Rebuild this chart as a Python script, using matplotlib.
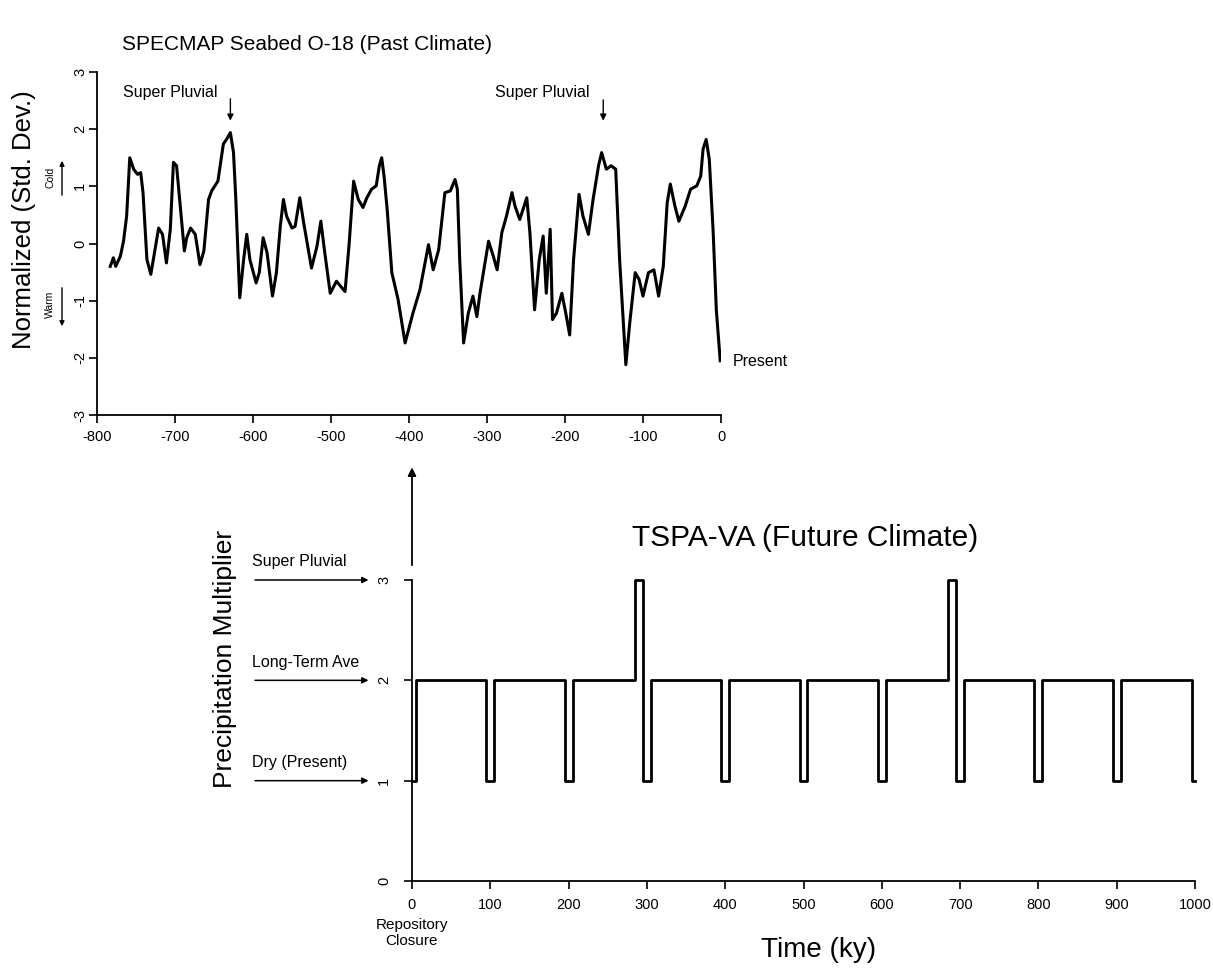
import matplotlib
matplotlib.use("Agg")
import matplotlib.pyplot as plt

plt.rcParams["font.family"] = ["Liberation Sans", "DejaVu Sans"]
plt.rcParams["axes.unicode_minus"] = False

# SPECMAP seabed O-18, normalized (std. dev.), time in ky before present
past_time = [
    -783, -779, -776, -770, -766, -762, -758, -753, -748, -744, -741, -736, -731,
    -727, -721, -716, -711, -706, -702, -698, -694, -688, -685, -680, -674, -668,
    -663, -657, -653, -645, -638, -634, -629, -625, -622, -617, -612, -608, -604,
    -596, -592, -587, -582, -575, -570, -565, -561, -557, -550, -546, -540, -535,
    -525, -518, -513, -508, -501, -493, -482, -477, -471, -465, -459, -454, -448,
    -442, -438, -435, -432, -428, -422, -414, -405, -395, -386, -375, -369, -362,
    -354, -347, -341, -338, -335, -330, -324, -318, -313, -309, -298, -292, -287,
    -281, -275, -268, -264, -258, -249, -245, -239, -233, -228, -224, -219, -216,
    -211, -204, -199, -194, -189, -182, -177, -170, -164, -157, -153, -147, -141,
    -135, -130, -122, -117, -110, -105, -100, -93, -86, -80, -74, -69, -65, -59,
    -54, -46, -39, -31, -26, -23, -19, -15, -10, -6, -1,
]
past_o18 = [
    -0.40, -0.25, -0.40, -0.22, 0.04, 0.48, 1.50, 1.30, 1.21, 1.24, 0.89, -0.28, -0.54,
    -0.22, 0.27, 0.16, -0.34, 0.25, 1.42, 1.36, 0.77, -0.13, 0.10, 0.27, 0.16, -0.37,
    -0.13, 0.77, 0.92, 1.09, 1.74, 1.82, 1.94, 1.59, 0.77, -0.95, -0.28, 0.16, -0.28,
    -0.69, -0.51, 0.10, -0.16, -0.92, -0.51, 0.30, 0.77, 0.48, 0.27, 0.30, 0.80, 0.36,
    -0.43, -0.05, 0.39, -0.16, -0.87, -0.66, -0.84, -0.05, 1.09, 0.77, 0.63, 0.80, 0.95,
    1.01, 1.36, 1.50, 1.18, 0.60, -0.51, -0.98, -1.74, -1.22, -0.81, -0.02, -0.46, -0.11,
    0.89, 0.92, 1.12, 0.95, -0.28, -1.74, -1.22, -0.92, -1.28, -0.87, 0.04, -0.22, -0.46,
    0.19, 0.48, 0.89, 0.65, 0.42, 0.80, 0.19, -1.16, -0.28, 0.13, -0.87, 0.25, -1.33,
    -1.22, -0.87, -1.22, -1.60, -0.28, 0.86, 0.48, 0.16, 0.77, 1.36, 1.59, 1.30, 1.36,
    1.30, -0.28, -2.12, -1.39, -0.51, -0.63, -0.92, -0.51, -0.46, -0.92, -0.40, 0.71, 1.04, 0.65,
    0.39, 0.65, 0.95, 1.01, 1.18, 1.65, 1.82, 1.47, 0.19, -1.16, -2.05,
]

# TSPA-VA future precipitation multiplier (step changes, ky after closure)
future_time = [0, 5, 95, 105, 195, 205, 285, 295, 305, 395, 405, 495, 505,
               595, 605, 685, 695, 705, 795, 805, 895, 905, 996, 1000]
future_mult = [1, 2, 1, 2, 1, 2, 3, 1, 2, 1, 2, 1, 2,
               1, 2, 3, 1, 2, 1, 2, 1, 2, 1, 1]

past_xticks = list(range(-800, 1, 100))
past_yticks = [-3, -2, -1, 0, 1, 2, 3]
future_xticks = list(range(0, 1001, 100))
future_yticks = [0, 1, 2, 3]
climate_levels = [(3, "Super Pluvial"), (2, "Long-Term Ave"), (1, "Dry (Present)")]

W, H = 1213, 969
fig = plt.figure(figsize=(W / 100, H / 100), dpi=100)


def fx(px):
    return px / W


def fy(py):
    return 1 - py / H


# ---- top: past climate ----
ax1 = fig.add_axes([fx(97), fy(415), fx(721) - fx(97), fy(72) - fy(415)])
ax1.plot(past_time, past_o18, color="k", lw=2.2)
ax1.set_xlim(-800, 0)
ax1.set_ylim(-3, 3)
for side in ("top", "right"):
    ax1.spines[side].set_visible(False)
for side in ("left", "bottom"):
    ax1.spines[side].set_linewidth(1.3)
ax1.set_xticks(past_xticks)
ax1.set_xticklabels([str(v) for v in past_xticks])
ax1.set_yticks(past_yticks)
ax1.set_yticklabels([str(v) for v in past_yticks], rotation=90, va="center")
ax1.tick_params(axis="both", length=6, width=1.2, labelsize=10.5)
ax1.tick_params(axis="x", pad=5)
ax1.tick_params(axis="y", pad=1)

ax1.text(-767, 2.65, "Super Pluvial", fontsize=11.5, va="center", ha="left")
ax1.annotate("", xy=(-629, 2.1), xytext=(-629, 2.58),
             arrowprops=dict(arrowstyle="-|>", color="k", lw=1, mutation_scale=9),
             annotation_clip=False)
ax1.text(-290, 2.65, "Super Pluvial", fontsize=11.5, va="center", ha="left")
ax1.annotate("", xy=(-151, 2.1), xytext=(-151, 2.56),
             arrowprops=dict(arrowstyle="-|>", color="k", lw=1, mutation_scale=9),
             annotation_clip=False)
ax1.text(15, -2.07, "Present", fontsize=11.5, va="center", ha="left", clip_on=False)

fig.text(fx(122), fy(45), "SPECMAP Seabed O-18 (Past Climate)", fontsize=15,
         ha="left", va="center")
fig.text(fx(24), fy(220), "Normalized (Std. Dev.)", fontsize=18.5, rotation=90,
         ha="center", va="center")
fig.text(fx(50), fy(177), "Cold", fontsize=7.5, rotation=90, ha="center", va="center")
fig.text(fx(50), fy(304), "Warm", fontsize=7.5, rotation=90, ha="center", va="center")
ax1.annotate("", xy=(fx(62), fy(158)), xytext=(fx(62), fy(198)),
             xycoords="figure fraction", textcoords="figure fraction",
             arrowprops=dict(arrowstyle="-|>", color="k", lw=1, mutation_scale=7))
ax1.annotate("", xy=(fx(62), fy(329)), xytext=(fx(62), fy(285)),
             xycoords="figure fraction", textcoords="figure fraction",
             arrowprops=dict(arrowstyle="-|>", color="k", lw=1, mutation_scale=7))

# ---- bottom: future climate ----
ax2 = fig.add_axes([fx(412), fy(881), fx(1195) - fx(412), fy(580) - fy(881)])
ax2.step(future_time, future_mult, where="post", color="k", lw=2.0, clip_on=False)
ax2.set_xlim(0, 1000)
ax2.set_ylim(0, 3)
for side in ("top", "right"):
    ax2.spines[side].set_visible(False)
for side in ("left", "bottom"):
    ax2.spines[side].set_linewidth(1.3)
ax2.set_xticks(future_xticks)
ax2.set_xticklabels([str(v) for v in future_xticks])
ax2.set_yticks(future_yticks)
ax2.set_yticklabels([str(v) for v in future_yticks], rotation=90, va="center")
ax2.tick_params(axis="both", length=6, width=1.2, labelsize=10.5)
ax2.tick_params(axis="x", pad=6)
ax2.tick_params(axis="y", pad=9)

# y axis continues upward with an arrow toward the past record
ax2.annotate("", xy=(0, 4.15), xytext=(0, 3.12),
             arrowprops=dict(arrowstyle="-|>", color="k", lw=1.3, mutation_scale=12),
             annotation_clip=False)

for level, label in climate_levels:
    ax2.annotate("", xy=(-52, level), xytext=(-204, level),
                 arrowprops=dict(arrowstyle="-|>", color="k", lw=1.1, mutation_scale=9),
                 annotation_clip=False)
    ax2.text(-204, level + 0.18, label, fontsize=11.5, ha="left", va="center",
             clip_on=False)

ax2.text(0, -0.52, "Repository\nClosure", fontsize=11, ha="center", va="center",
         linespacing=1.2, clip_on=False)

fig.text(fx(632), fy(538), "TSPA-VA (Future Climate)", fontsize=21.5,
         ha="left", va="center")
fig.text(fx(225), fy(659), "Precipitation Multiplier", fontsize=19, rotation=90,
         ha="center", va="center")
fig.text(fx(819), fy(950), "Time (ky)", fontsize=20, ha="center", va="center")

fig.savefig("out.png", dpi=100)
